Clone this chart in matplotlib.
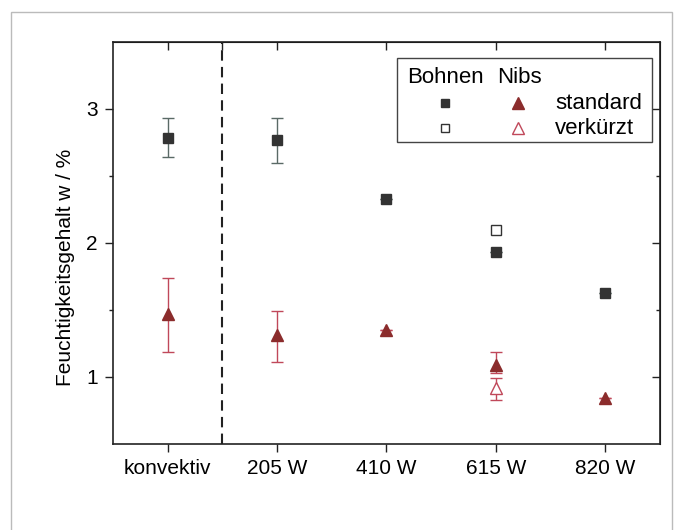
import numpy as np
import matplotlib.pyplot as plt
from matplotlib.patches import Rectangle

plt.rcParams['font.family'] = ['Liberation Sans', 'DejaVu Sans']

categories = ['konvektiv', '205 W', '410 W', '615 W', '820 W']

# Bohnen, standard
bohnen_std = [2.78, 2.77, 2.33, 1.93, 1.63]
bohnen_std_lo = [0.14, 0.17, 0, 0, 0]
bohnen_std_hi = [0.15, 0.16, 0, 0, 0]
# Bohnen, verkuerzt (only 615 W)
bohnen_kurz_x = [3]
bohnen_kurz = [2.10]

# Nibs, standard
nibs_std = [1.47, 1.31, 1.35, 1.09, 0.84]
nibs_std_lo = [0.28, 0.20, 0, 0.06, 0]
nibs_std_hi = [0.27, 0.18, 0, 0.10, 0]
# Nibs, verkuerzt
nibs_kurz_x = [3]
nibs_kurz = [0.92]
nibs_kurz_lo = [0.09]
nibs_kurz_hi = [0.07]

dark = '#333333'
red = '#8b2c2c'
red_err = '#c0485a'
gray_err = '#5a6a66'
axcol = '#222222'

fig = plt.figure(figsize=(6.79, 5.30), dpi=100)
ax = fig.add_axes([0.1664, 0.1623, 0.8056, 0.7585])

x = np.arange(len(categories))

ax.errorbar(x, bohnen_std, yerr=[bohnen_std_lo, bohnen_std_hi], fmt='none',
            ecolor=gray_err, elinewidth=1, capsize=4, capthick=1)
ax.plot(x, bohnen_std, 's', color=dark, ms=7, ls='none')
ax.plot(bohnen_kurz_x, bohnen_kurz, 's', mfc='white', mec=dark, ms=7, mew=1, ls='none')

ax.errorbar(x, nibs_std, yerr=[nibs_std_lo, nibs_std_hi], fmt='none',
            ecolor=red_err, elinewidth=1, capsize=4, capthick=1)
ax.errorbar(nibs_kurz_x, nibs_kurz, yerr=[nibs_kurz_lo, nibs_kurz_hi], fmt='none',
            ecolor=red_err, elinewidth=1, capsize=4, capthick=1)
ax.plot(x, nibs_std, '^', color=red, ms=8.5, ls='none')
ax.plot(nibs_kurz_x, nibs_kurz, '^', mfc='white', mec=red_err, ms=8.5, mew=1, ls='none')

ax.axvline(0.5, color=axcol, lw=1.5, ls=(0, (5, 3)))

ax.set_xlim(-0.5, 4.5)
ax.set_ylim(0.5, 3.5)
ax.set_xticks(x)
ax.set_xticklabels(categories, fontsize=15)
ax.set_yticks([1, 2, 3])
ax.set_yticks([1.5, 2.5], minor=True)
ax.tick_params(axis='y', labelsize=15)
ax.tick_params(which='both', direction='out', color=axcol, pad=5)
ax.tick_params(which='major', length=6, width=1)
ax.tick_params(which='minor', length=3, width=1)
ax.set_ylabel('Feuchtigkeitsgehalt w / %', fontsize=15)
ax.yaxis.set_label_coords(-0.069, 0.44)
for s in ax.spines.values():
    s.set_linewidth(1.2)
    s.set_color(axcol)

# inward ticks on top and right
top = ax.secondary_xaxis('top')
top.set_xticks(list(x) + [0.5])
top.tick_params(direction='in', length=6, width=1, color=axcol, labeltop=False)
right = ax.secondary_yaxis('right')
right.set_yticks([1, 2, 3])
right.set_yticks([1.5, 2.5], minor=True)
right.tick_params(which='both', direction='in', width=1, color=axcol, labelright=False)
right.tick_params(which='major', length=6)
right.tick_params(which='minor', length=3)

# legend box drawn by hand
ax.add_patch(Rectangle((0.519, 0.751), 0.466, 0.209, transform=ax.transAxes,
                       fill=True, fc='white', ec='#444444', lw=1, zorder=5))
ax.text(0.538, 0.912, 'Bohnen', transform=ax.transAxes, fontsize=16, va='center', zorder=6)
ax.text(0.702, 0.912, 'Nibs', transform=ax.transAxes, fontsize=16, va='center', zorder=6)
ax.plot([0.607], [0.848], 's', color=dark, ms=6, transform=ax.transAxes, zorder=6)
ax.plot([0.607], [0.786], 's', mfc='white', mec=dark, ms=6, mew=1, transform=ax.transAxes, zorder=6)
ax.plot([0.740], [0.848], '^', color=red, ms=8, transform=ax.transAxes, zorder=6)
ax.plot([0.740], [0.786], '^', mfc='white', mec=red_err, ms=8, mew=1, transform=ax.transAxes, zorder=6)
ax.text(0.808, 0.848, 'standard', transform=ax.transAxes, fontsize=16, va='center', zorder=6)
ax.text(0.808, 0.786, 'verkürzt', transform=ax.transAxes, fontsize=16, va='center', zorder=6)

# faint page frame
fig.patches.append(Rectangle((0.016, -0.05), 0.974, 1.028, transform=fig.transFigure,
                             fill=False, ec='#bbbbbb', lw=1))

fig.savefig('out.png', dpi=100)
